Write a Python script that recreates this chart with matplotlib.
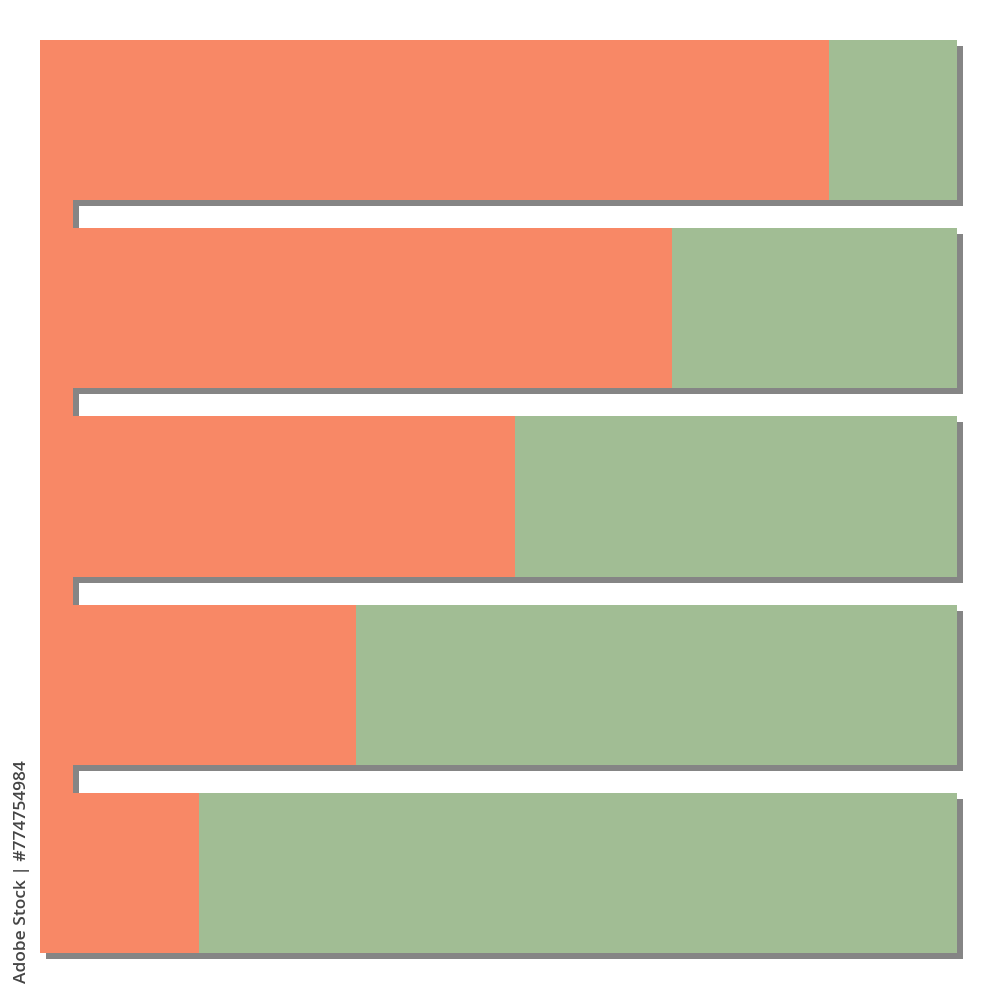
import matplotlib
matplotlib.use("Agg")
import matplotlib.pyplot as plt
import matplotlib.transforms as mtransforms

# share of each row (percent of total bar length), top to bottom
rows = [0, 1, 2, 3, 4]
orange_share = [86.0, 68.9, 51.8, 34.5, 17.3]
green_share = [100 - v for v in orange_share]

ORANGE = "#F88866"
GREEN = "#A1BD94"
SHADOW = "#858585"
BAR_H = 0.85
STRIP_W = 3.6

fig = plt.figure(figsize=(10, 10), dpi=100)
ax = fig.add_axes([0.04, 1 - 0.953, 0.917, 0.913])

# shadow transform: shifted 6px right and 6px down
shadow_tr = ax.transData + mtransforms.ScaledTranslation(0.06, -0.06, fig.dpi_scale_trans)

def draw_shadow(y, width, left, height):
    bars = ax.barh(y, width, left=left, height=height, color=SHADOW, zorder=1)
    for b in bars:
        b.set_transform(shadow_tr)
        b.set_clip_on(False)

# shadows first
draw_shadow(rows, [100] * len(rows), 0, BAR_H)
draw_shadow([2], [STRIP_W], 0, 4 + BAR_H)

# connecting strip on the left
strip = ax.barh([2], [STRIP_W], left=0, height=4 + BAR_H, color=ORANGE, zorder=2)

# stacked bars
b1 = ax.barh(rows, orange_share, height=BAR_H, color=ORANGE, zorder=3)
b2 = ax.barh(rows, green_share, left=orange_share, height=BAR_H, color=GREEN, zorder=3)
for b in list(strip) + list(b1) + list(b2):
    b.set_clip_on(False)

ax.set_xlim(0, 100)
ax.set_ylim(4 + BAR_H / 2, -BAR_H / 2)
ax.axis("off")

fig.text(0.022, 0.128, "Adobe Stock | #774754984", rotation=90, ha="center", va="center",
         fontsize=12.5, color="#444444", family="Open Sans", fontweight="semibold")

fig.savefig("out.png", dpi=100, facecolor="white")
